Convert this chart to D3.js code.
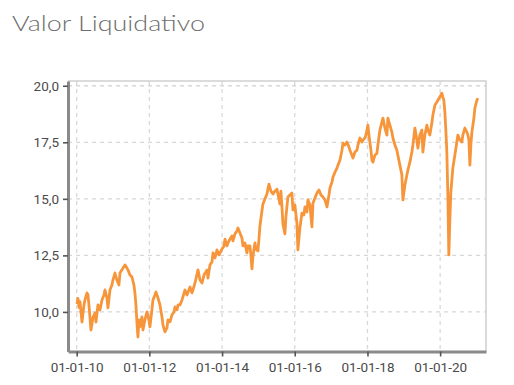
<!DOCTYPE html>
<html>
<head>
<meta charset="utf-8">
<script src="https://cdn.jsdelivr.net/npm/d3@7"></script>
<style>
  body { margin: 0; background: #fff; }
  svg { display: block; }
</style>
</head>
<body>
<div id="chart"></div>
<script>
// chart data
var titleText = "Valor Liquidativo";
var yTickValues = [10, 12.5, 15, 17.5, 20];
var xTickYears = [2010, 2012, 2014, 2016, 2018, 2020];

// decimal years
var years = [
  2010.008, 2010.036, 2010.063, 2010.091, 2010.146, 2010.201, 2010.228, 2010.283, 2010.311, 2010.338,
  2010.393, 2010.448, 2010.503, 2010.531, 2010.586, 2010.641, 2010.696, 2010.751, 2010.778, 2010.833,
  2010.861, 2010.916, 2010.971, 2010.998, 2011.053, 2011.108, 2011.163, 2011.191, 2011.246, 2011.328,
  2011.384, 2011.411, 2011.466, 2011.521, 2011.576, 2011.603, 2011.631, 2011.659, 2011.686, 2011.714,
  2011.741, 2011.796, 2011.824, 2011.879, 2011.934, 2011.989, 2012.016, 2012.071, 2012.099, 2012.154,
  2012.181, 2012.237, 2012.292, 2012.347, 2012.374, 2012.429, 2012.484, 2012.512, 2012.567, 2012.622,
  2012.677, 2012.704, 2012.759, 2012.787, 2012.842, 2012.897, 2012.979, 2013.034, 2013.117, 2013.172,
  2013.199, 2013.254, 2013.337, 2013.392, 2013.447, 2013.502, 2013.585, 2013.612, 2013.667, 2013.722,
  2013.750, 2013.805, 2013.860, 2013.915, 2013.942, 2013.997, 2014.052, 2014.080, 2014.135, 2014.162,
  2014.217, 2014.272, 2014.300, 2014.355, 2014.410, 2014.437, 2014.492, 2014.547, 2014.575, 2014.630,
  2014.685, 2014.712, 2014.767, 2014.795, 2014.822, 2014.850, 2014.905, 2014.932, 2014.987, 2015.015,
  2015.042, 2015.097, 2015.125, 2015.180, 2015.235, 2015.262, 2015.290, 2015.345, 2015.400, 2015.455,
  2015.510, 2015.565, 2015.592, 2015.620, 2015.647, 2015.675, 2015.730, 2015.757, 2015.812, 2015.867,
  2015.922, 2015.950, 2016.005, 2016.060, 2016.087, 2016.142, 2016.197, 2016.252, 2016.280, 2016.335,
  2016.362, 2016.417, 2016.472, 2016.500, 2016.555, 2016.610, 2016.665, 2016.720, 2016.775, 2016.830,
  2016.885, 2016.940, 2016.967, 2017.022, 2017.050, 2017.105, 2017.160, 2017.187, 2017.242, 2017.297,
  2017.325, 2017.380, 2017.435, 2017.490, 2017.517, 2017.572, 2017.600, 2017.655, 2017.710, 2017.737,
  2017.792, 2017.847, 2017.875, 2017.930, 2017.957, 2018.012, 2018.040, 2018.095, 2018.122, 2018.150,
  2018.205, 2018.260, 2018.287, 2018.342, 2018.397, 2018.425, 2018.480, 2018.535, 2018.562, 2018.617,
  2018.672, 2018.700, 2018.755, 2018.810, 2018.837, 2018.892, 2018.920, 2018.947, 2018.975, 2019.030,
  2019.085, 2019.112, 2019.167, 2019.222, 2019.250, 2019.305, 2019.360, 2019.387, 2019.442, 2019.497,
  2019.525, 2019.580, 2019.635, 2019.662, 2019.717, 2019.772, 2019.800, 2019.855, 2019.910, 2019.937,
  2019.992, 2020.047, 2020.075, 2020.102, 2020.130, 2020.157, 2020.184, 2020.212, 2020.239, 2020.267,
  2020.294, 2020.322, 2020.349, 2020.404, 2020.459, 2020.487, 2020.542, 2020.597, 2020.624, 2020.679,
  2020.734, 2020.762, 2020.789, 2020.817, 2020.844, 2020.872, 2020.927, 2020.954, 2021.009, 2021.037
];

var navValues = [
  10.35, 10.60, 10.20, 10.45, 9.55, 10.31, 10.53, 10.84, 10.75, 10.30,
  9.20, 9.75, 9.95, 9.55, 10.31, 10.09, 10.53, 10.75, 10.97, 10.62,
  10.18, 10.97, 11.19, 11.41, 11.72, 11.41, 11.19, 11.72, 11.86, 12.08,
  11.94, 11.86, 11.63, 11.55, 11.19, 10.84, 10.31, 9.51, 8.89, 9.65,
  9.34, 9.78, 9.20, 9.65, 10.00, 9.65, 9.34, 10.09, 10.53, 10.75,
  10.88, 10.62, 10.31, 9.78, 9.43, 9.12, 9.29, 9.65, 9.56, 9.87,
  10.00, 10.22, 10.09, 10.31, 10.31, 10.53, 10.97, 10.75, 11.10, 10.84,
  10.97, 11.28, 11.86, 11.41, 11.28, 11.63, 11.86, 11.50, 12.08, 12.21,
  12.61, 12.39, 12.74, 12.52, 12.61, 12.78, 12.92, 13.22, 12.92, 13.05,
  13.22, 13.36, 13.14, 13.45, 13.58, 13.71, 13.49, 13.27, 12.92, 13.05,
  12.61, 12.92, 12.92, 12.47, 11.90, 12.47, 13.05, 12.78, 12.70, 13.22,
  13.80, 14.46, 14.77, 14.99, 15.21, 15.43, 15.65, 15.34, 15.21, 15.34,
  15.43, 14.99, 14.77, 15.34, 14.68, 13.89, 13.45, 14.20, 15.08, 15.17,
  15.26, 14.51, 14.73, 13.93, 12.74, 13.71, 14.37, 14.28, 14.64, 14.42,
  14.95, 14.73, 13.76, 14.81, 15.04, 15.26, 15.39, 15.17, 15.08, 14.95,
  14.64, 15.17, 15.48, 15.74, 15.96, 16.18, 16.36, 16.49, 16.71, 17.15,
  17.46, 17.38, 17.51, 17.29, 17.15, 16.93, 16.80, 17.07, 17.15, 17.38,
  17.69, 17.51, 17.60, 17.69, 17.82, 18.26, 17.82, 17.15, 16.71, 16.62,
  16.93, 17.02, 17.38, 18.04, 18.39, 18.57, 18.13, 17.82, 18.57, 18.26,
  17.95, 17.69, 17.38, 17.15, 16.93, 16.49, 16.27, 16.05, 14.95, 15.61,
  16.05, 16.27, 16.62, 17.07, 17.38, 18.13, 17.60, 17.24, 17.82, 18.04,
  17.07, 17.82, 18.26, 18.04, 17.82, 18.35, 18.70, 19.14, 19.28, 19.36,
  19.50, 19.67, 19.50, 19.36, 18.83, 18.04, 17.07, 15.17, 12.52, 14.06,
  15.30, 15.83, 16.36, 16.93, 17.51, 17.82, 17.60, 17.51, 17.82, 18.13,
  17.95, 17.82, 17.60, 16.49, 17.38, 17.95, 18.57, 19.01, 19.36, 19.45
];

// decimal year -> Date
function toDate(y) {
  var yr = Math.floor(y);
  var start = Date.UTC(yr, 0, 1), end = Date.UTC(yr + 1, 0, 1);
  return new Date(start + (y - yr) * (end - start));
}

var data = years.map(function (d, i) {
  return { date: toDate(d), value: navValues[i] };
});

var width = 514, height = 385;
var margin = { top: 81, right: 28, bottom: 33.5, left: 68 };

var svg = d3.select("#chart")
  .append("svg")
  .attr("width", width)
  .attr("height", height);

// title
svg.append("text")
  .attr("x", 12)
  .attr("y", 31)
  .attr("font-family", "Lato, Roboto, sans-serif")
  .attr("font-weight", 300)
  .attr("font-size", 21)
  .attr("fill", "#6e6e6e")
  .attr("textLength", 193)
  .attr("lengthAdjust", "spacingAndGlyphs")
  .text(titleText);

var x = d3.scaleUtc()
  .domain([toDate(2009.761), toDate(2021.26)])
  .range([margin.left, width - margin.right]);

var y = d3.scaleLinear()
  .domain([8.25, 20.21])
  .range([height - margin.bottom, margin.top]);

var xTicks = xTickYears.map(function (d) { return toDate(d); });

// dashed grid
var grid = svg.append("g")
  .attr("stroke", "#d8d8d8")
  .attr("stroke-width", 1.3)
  .attr("stroke-dasharray", "4,4");

grid.selectAll("line.h")
  .data(yTickValues).enter().append("line")
  .attr("class", "h")
  .attr("x1", margin.left)
  .attr("x2", width - margin.right)
  .attr("y1", function (d) { return y(d); })
  .attr("y2", function (d) { return y(d); });

grid.selectAll("line.v")
  .data(xTicks).enter().append("line")
  .attr("class", "v")
  .attr("x1", function (d) { return x(d); })
  .attr("x2", function (d) { return x(d); })
  .attr("y1", margin.top)
  .attr("y2", height - margin.bottom);

// light frame top and right
svg.append("path")
  .attr("d", "M" + margin.left + "," + margin.top + "H" + (width - margin.right) + "V" + (height - margin.bottom))
  .attr("fill", "none")
  .attr("stroke", "#d0d0d0")
  .attr("stroke-width", 1.5);

// line
var line = d3.line()
  .x(function (d) { return x(d.date); })
  .y(function (d) { return y(d.value); });

svg.append("path")
  .datum(data)
  .attr("fill", "none")
  .attr("stroke", "#f7953a")
  .attr("stroke-width", 2.8)
  .attr("stroke-linejoin", "round")
  .attr("d", line);

// axes
var fmtY = function (d) { return d3.format(".1f")(d).replace(".", ","); };

var yAxis = svg.append("g")
  .attr("transform", "translate(" + margin.left + ",0)")
  .call(d3.axisLeft(y).tickValues(yTickValues).tickFormat(fmtY).tickSize(5).tickPadding(4).tickSizeOuter(0));

var xAxis = svg.append("g")
  .attr("transform", "translate(0," + (height - margin.bottom) + ")")
  .call(d3.axisBottom(x).tickValues(xTicks).tickFormat(d3.utcFormat("%d-%m-%y")).tickSize(5).tickPadding(5.5).tickSizeOuter(0));

[yAxis, xAxis].forEach(function (ax) {
  ax.select(".domain").attr("stroke", "#8a8a8a").attr("stroke-width", 3);
  ax.selectAll(".tick line").attr("stroke", "#555").attr("stroke-width", 1.6);
  ax.selectAll(".tick text")
    .attr("fill", "#4a4a4a")
    .attr("font-family", "Roboto, sans-serif")
    .attr("font-size", 13.5);
});
</script>
</body>
</html>
